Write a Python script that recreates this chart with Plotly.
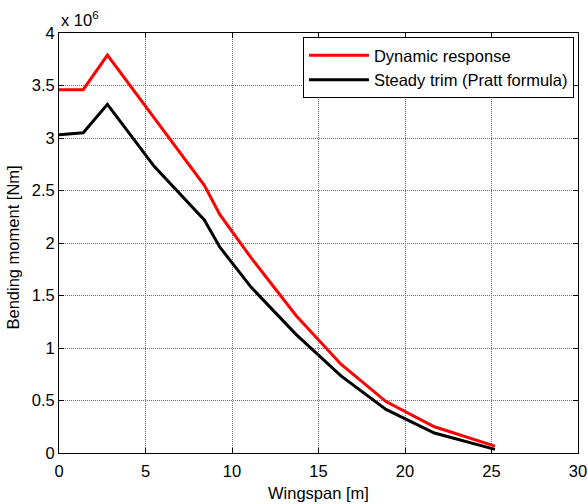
import plotly.graph_objects as go

# Spanwise stations [m]
span_m = [0, 1.4, 2.8, 5.5, 8.4, 9.3, 11.1, 13.7, 16.3, 18.9, 21.7, 25.2]

# Bending moment in units of 1e6 Nm
dynamic_response = [3.46, 3.46, 3.79, 3.19, 2.55, 2.27, 1.86, 1.31, 0.845, 0.49, 0.25, 0.065]
steady_trim = [3.03, 3.05, 3.32, 2.73, 2.22, 1.96, 1.58, 1.13, 0.735, 0.415, 0.19, 0.035]

x_ticks = [0, 5, 10, 15, 20, 25, 30]
y_ticks = [0, 0.5, 1, 1.5, 2, 2.5, 3, 3.5, 4]
y_tick_labels = ["0", "0.5", "1", "1.5", "2", "2.5", "3", "3.5", "4"]

FONT = "Liberation Sans, Arial, sans-serif"
FS = 16.5

fig = go.Figure()
fig.add_trace(go.Scatter(x=span_m, y=dynamic_response, mode="lines",
                         name="Dynamic response",
                         line=dict(color="#ff0000", width=3)))
fig.add_trace(go.Scatter(x=span_m, y=steady_trim, mode="lines",
                         name="Steady trim (Pratt formula)",
                         line=dict(color="#000000", width=3)))

axis_common = dict(
    showline=True, linecolor="black", linewidth=1, mirror="ticks",
    ticks="inside", ticklen=5, tickcolor="black",
    showgrid=True, gridcolor="#6e6e6e", gridwidth=1, griddash="1px,1px",
    zeroline=False, automargin=False,
    tickfont=dict(family=FONT, size=FS, color="black"),
)

fig.update_xaxes(range=[0, 30], tickvals=x_ticks, ticklabelstandoff=3,
                 **axis_common)
fig.update_yaxes(range=[0, 4], tickvals=y_ticks, ticktext=y_tick_labels,
                 **axis_common)

fig.update_layout(
    width=588, height=504, autosize=False,
    margin=dict(l=59, r=10, t=33, b=51),
    paper_bgcolor="white", plot_bgcolor="white",
    font=dict(family=FONT, size=FS, color="black"),
    showlegend=True,
    legend=dict(
        x=0.47, y=0.9905, xanchor="left", yanchor="top",
        bgcolor="white", bordercolor="black", borderwidth=1,
        font=dict(family=FONT, size=FS, color="black"),
        itemwidth=60, tracegroupgap=0,
    ),
    annotations=[
        dict(text="Wingspan [m]", xref="paper", yref="paper",
             x=0.5, y=-0.095, xanchor="center", yanchor="middle",
             showarrow=False, font=dict(family=FONT, size=FS)),
        dict(text="Bending moment [Nm]", xref="paper", yref="paper",
             x=-0.088, y=0.49, xanchor="center", yanchor="middle",
             textangle=-90, showarrow=False, font=dict(family=FONT, size=FS)),
        dict(text="x 10<sup>6</sup>", xref="paper", yref="paper",
             x=0.0, y=1.0, xanchor="left", yanchor="bottom", yshift=2,
             showarrow=False, font=dict(family=FONT, size=FS)),
    ],
)

fig.write_html("out.html", config={"responsive": False})
